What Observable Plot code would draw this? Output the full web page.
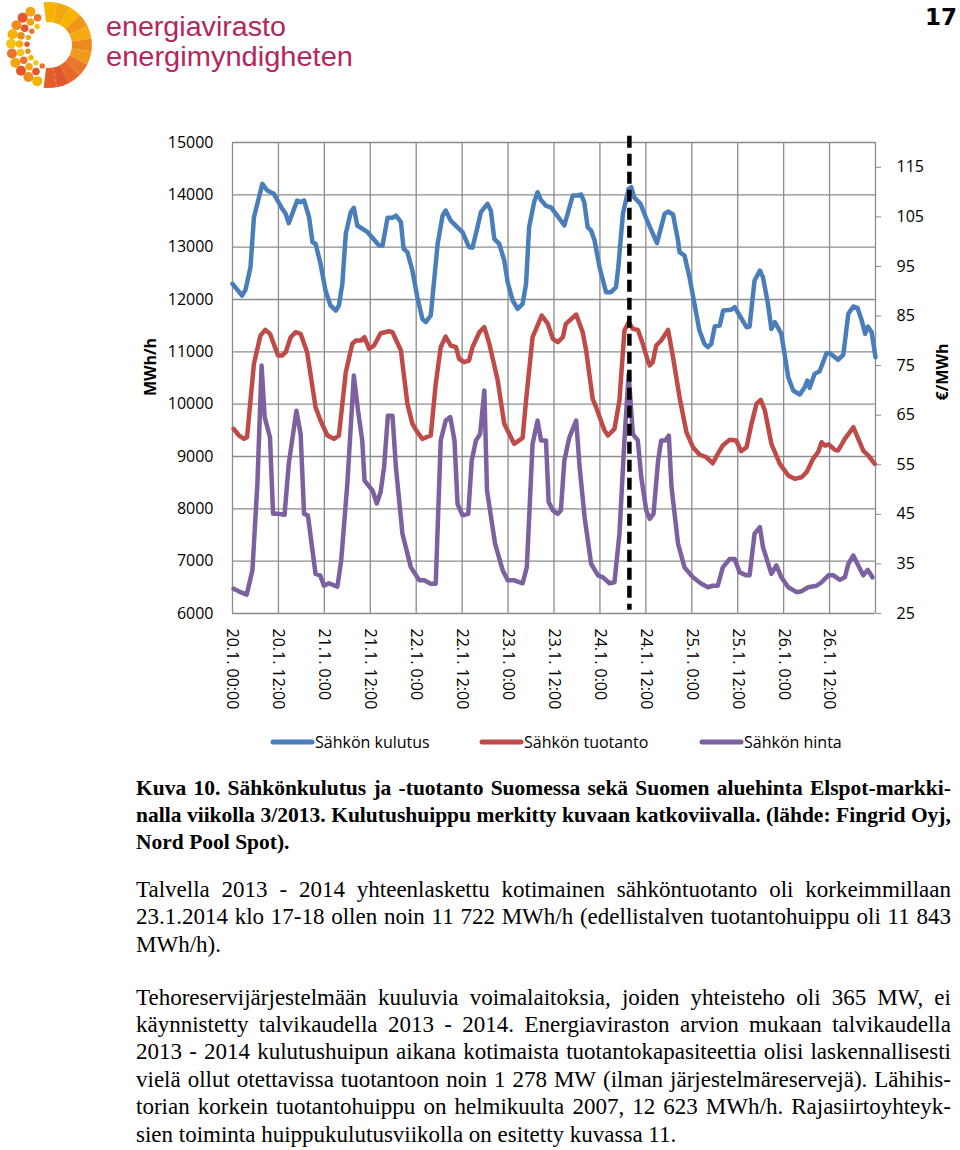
<!DOCTYPE html>
<html>
<head>
<meta charset="utf-8">
<script src="https://cdn.jsdelivr.net/npm/d3@7"></script>
<script src="https://cdn.jsdelivr.net/npm/@observablehq/plot@0.6"></script>
<style>
  html, body { margin: 0; padding: 0; background: #fff; }
  #page { position: relative; width: 960px; height: 1150px; overflow: hidden; background: #fff; }
  #chart { position: absolute; left: 0; top: 0; }
  #overlay { position: absolute; left: 0; top: 0; pointer-events: none; }
  .line { position: absolute; left: 136px; width: 815px; height: 28px; line-height: 28px;
          font-family: "Liberation Serif", "Times New Roman", serif; color: #000; white-space: nowrap; }
  .just { display: flex; justify-content: space-between; }
  .reg { font-size: 23px; }
  .bold { font-size: 21.5px; font-weight: bold; }
</style>
</head>
<body>
<div id="page">
  <div id="chart"></div>
  <svg id="overlay" width="960" height="1150"></svg>
  <div id="text"></div>
</div>
<script>
// ---------- DATA ----------
const xTickHours = [0, 12, 24, 36, 48, 60, 72, 84, 96, 108, 120, 132, 144, 156];
const xTickLabels = ["20.1. 00:00", "20.1. 12:00", "21.1. 0:00", "21.1. 12:00", "22.1. 0:00", "22.1. 12:00",
  "23.1. 0:00", "23.1. 12:00", "24.1. 0:00", "24.1. 12:00", "25.1. 0:00", "25.1. 12:00", "26.1. 0:00", "26.1. 12:00"];
const gridHours = [0, 12, 24, 36, 48, 60, 72, 84, 96, 108, 120, 132, 144, 156, 168];
const mwhTicks = [6000, 7000, 8000, 9000, 10000, 11000, 12000, 13000, 14000, 15000];
const priceTicks = [25, 35, 45, 55, 65, 75, 85, 95, 105, 115];
const priceDomain = [25, 120];
const mwhDomain = [6000, 15000];
const seriesNames = ["Sähkön kulutus", "Sähkön tuotanto", "Sähkön hinta"];
const seriesColors = ["#4a7ebb", "#be4b48", "#7d60a0"];
const logoLines = ["energiavirasto", "energimyndigheten"];

// Peak consumption marker (hour of week) and its vertical extent in MWh/h
const peakHour = 103.7;
const peakRuleTop = 15120;
const peakRuleBottom = 6060;

// Sähkön kulutus (MWh/h)
const kulutusHours = [0, 2.5, 3.4, 4.7, 5.6, 7.8, 9.1, 10.8, 13, 13.9, 14.7, 16.9, 17.7, 18.7, 20, 20.9, 21.7, 23,
  24.3, 25.6, 27, 27.8, 28.7, 29.6, 30.9, 31.7, 32.6, 35.3, 38.3, 39.2, 40.5, 41.8, 42.7, 44, 44.7, 45.7, 47,
  48.3, 49.6, 50.5, 51.8, 53.6, 54.9, 55.7, 57, 59.2, 60.1, 61.8, 62.7, 64, 64.9, 66.6, 67.5, 68.4, 69.7, 71,
  71.9, 73.2, 74.5, 75.8, 76.7, 77.5, 78.8, 79.7, 80.6, 81.9, 83.2, 84.5, 86.7, 88.9, 90.2, 91.1, 91.9, 92.8,
  93.7, 94.6, 95.9, 97.6, 98.9, 100.2, 100.8, 102, 103.5, 104.2, 104.9, 106.6, 108.5, 110.9, 112.9, 113.8,
  115.1, 116.4, 116.8, 118.1, 119.4, 120.7, 122, 123.3, 124.2, 125.1, 126, 127.3, 128.2, 130.3, 131.2, 132.5,
  134.3, 135.1, 136.4, 137.8, 138.6, 139.9, 140.8, 141.7, 142.7, 143.4, 145.2, 146.5, 148.2, 149.5, 150.2,
  150.8, 152.1, 153.4, 155.2, 156.1, 158.2, 159.6, 160.9, 162.2, 163.3, 164.4, 165.3, 166, 167, 168];
const kulutusMWh = [12300, 12076, 12185, 12617, 13573, 14210, 14083, 14020, 13733, 13637, 13458, 13892, 13860,
  13892, 13573, 13095, 13064, 12682, 12172, 11885, 11790, 11885, 12300, 13255, 13668, 13752, 13414, 13286,
  13032, 13032, 13561, 13561, 13605, 13477, 12969, 12904, 12554, 12044, 11631, 11566, 11694, 13064, 13605,
  13700, 13509, 13350, 13286, 13000, 12987, 13381, 13668, 13828, 13700, 13160, 13064, 12745, 12330, 11981,
  11822, 11917, 12300, 13381, 13860, 14050, 13900, 13790, 13760, 13637, 13414, 13987, 13987, 14006, 13860,
  13381, 13318, 13127, 12617, 12140, 12140, 12235, 12617, 13637, 14115, 14146, 13955, 13828, 13477, 13076,
  13637, 13681, 13624, 13127, 12904, 12840, 12426, 11917, 11407, 11153, 11088, 11153, 11484, 11503, 11790,
  11803, 11853, 11694, 11471, 11484, 12363, 12554, 12426, 11917, 11439, 11566, 11439, 11344, 10515, 10261,
  10185, 10324, 10452, 10312, 10579, 10630, 10974, 10974, 10847, 10948, 11726, 11866, 11841, 11598, 11344,
  11484, 11375, 10897];

// Sähkön tuotanto (MWh/h)
const tuotantoHours = [0.3, 1.7, 3, 3.8, 5.6, 7.3, 8.6, 9.8, 11.9, 13, 13.9, 15.2, 16.5, 17.8, 19.5, 21.7, 23,
  24.8, 26.5, 27.8, 29.6, 31.3, 32.2, 33.5, 34.5, 35.7, 37, 38.7, 40.9, 41.8, 44, 45.7, 47, 48.3, 49.6, 51.8,
  53.1, 54.4, 55.7, 57, 58.4, 59.2, 60.5, 61.8, 62.7, 64.5, 65.8, 67.1, 69.3, 71, 73.6, 75.8, 76.7, 78.4, 80.8,
  82.4, 83.7, 85, 86.3, 87.1, 89.8, 91.5, 92.4, 94.1, 95, 97.2, 98.1, 99.8, 101.1, 102.4, 103.5, 104.6, 105.9,
  107.2, 108.5, 109, 109.8, 110.7, 112, 113.8, 115.1, 116.8, 118.6, 120.3, 122, 123.8, 125.5, 126.8, 128.1,
  129.9, 131.6, 132.9, 134.3, 135.6, 136.9, 138, 139.1, 140.8, 143, 145.2, 146.9, 148.7, 150, 151.7, 153,
  153.9, 154.8, 155.8, 157.4, 158.2, 160, 162.2, 164.8, 166.1, 167.8];
const tuotantoMWh = [9529, 9401, 9337, 9368, 10771, 11312, 11420, 11344, 10930, 10930, 10993, 11279, 11375,
  11344, 10993, 9942, 9687, 9401, 9337, 9401, 10611, 11153, 11216, 11216, 11279, 11057, 11121, 11356, 11394,
  11375, 11025, 10006, 9624, 9464, 9337, 9401, 10388, 11088, 11293, 11121, 11088, 10866, 10802, 10834, 11088,
  11375, 11471, 11153, 10452, 9624, 9242, 9356, 10070, 11279, 11694, 11535, 11248, 11184, 11279, 11535, 11713,
  11375, 11025, 10101, 9942, 9496, 9401, 9529, 10070, 11407, 11566, 11439, 11420, 11153, 10834, 10739, 10802,
  11121, 11216, 11420, 10897, 10133, 9464, 9178, 9038, 8986, 8871, 9051, 9210, 9318, 9305, 9101, 9178, 9624,
  10006, 10082, 9879, 9242, 8860, 8636, 8573, 8604, 8700, 8955, 9082, 9273, 9210, 9229, 9127, 9114, 9337,
  9560, 9114, 9019, 8860];

// Sähkön hinta (€/MWh)
const hintaHours = [0.3, 2.1, 3.7, 5.2, 6.5, 7.6, 8.4, 9.8, 10.6, 12.1, 13.6, 14.7, 16.7, 17.8, 18.7, 19.7, 21.7,
  22.9, 23.9, 25.2, 27.4, 28.4, 30, 31.7, 32.8, 33.9, 34.5, 36.6, 37.7, 38.7, 39.6, 40.6, 41.8, 42.7, 44.4,
  46.6, 48.8, 50.1, 51.8, 53.1, 54.4, 55.7, 56.9, 58, 58.8, 60.1, 61.6, 62.5, 63.6, 64.7, 65.8, 66.5, 68.6,
  70.6, 71.9, 73.6, 75.8, 76.9, 78.4, 79.7, 80.6, 81.9, 82.6, 83.7, 85, 85.8, 86.7, 88, 89.8, 90.7, 92, 93.7,
  95.5, 96.8, 98.5, 99.8, 101.1, 102.4, 103.5, 104.6, 105.9, 106.8, 108.1, 109, 110, 111.2, 112, 113.1, 114,
  114.7, 116.4, 118.1, 120.3, 122.5, 124.2, 125.5, 126.8, 128.1, 129.9, 131.2, 132.5, 134.3, 135.1, 136.4,
  137.8, 138.6, 140.8, 142.1, 143.4, 145.2, 147.4, 148.7, 150.4, 152.6, 153.9, 155.7, 157, 158.7, 160, 160.9,
  162.2, 163.5, 164.8, 166, 167.2];
const hintaEur = [30, 29.3, 28.8, 33.7, 51.1, 75, 64.6, 60.5, 45.1, 45.1, 44.9, 55.2, 65.9, 61.2, 45.1, 44.8, 33,
  32.7, 30.6, 31.1, 30.4, 35.7, 51.1, 73, 65.9, 59.9, 51.8, 49.8, 47.2, 49.5, 54.5, 64.9, 64.9, 54.5, 41.1,
  34.3, 31.7, 31.7, 31, 31, 59.9, 63.9, 64.6, 59.9, 47.1, 44.8, 45.1, 55.8, 59.9, 61.2, 70, 49.8, 39.1, 33.7,
  31.7, 31.7, 31.1, 34.3, 59.2, 63.9, 59.9, 59.9, 47.5, 45.8, 45.1, 45.8, 55.8, 60.5, 63.9, 54.5, 44.4, 35,
  32.7, 32.3, 31.1, 31.3, 41.1, 59.9, 73.3, 61.2, 59.9, 52.5, 45.8, 44.1, 45.1, 55.8, 59.9, 59.9, 60.9, 50.5,
  39.1, 34.3, 32.3, 31, 30.3, 30.6, 30.6, 34.3, 36, 36, 33.3, 32.7, 32.7, 41.1, 42.4, 38.4, 33, 34.7, 32.3,
  30.3, 29.3, 29.5, 30.3, 30.6, 31.3, 32.7, 32.7, 31.8, 32.3, 35, 36.7, 34.7, 32.7, 33.8, 32.3];

// ---------- TEXT ----------
const captionLines = [
  "Kuva 10. Sähkönkulutus ja -tuotanto Suomessa sekä Suomen aluehinta Elspot-markki-",
  "nalla viikolla 3/2013. Kulutushuippu merkitty kuvaan katkoviivalla. (lähde: Fingrid Oyj,",
  "Nord Pool Spot)."
];
const para1Lines = [
  "Talvella 2013 - 2014 yhteenlaskettu kotimainen sähköntuotanto oli korkeimmillaan",
  "23.1.2014 klo 17-18 ollen noin 11 722 MWh/h (edellistalven tuotantohuippu oli 11 843",
  "MWh/h)."
];
const para2Lines = [
  "Tehoreservijärjestelmään kuuluvia voimalaitoksia, joiden yhteisteho oli 365 MW, ei",
  "käynnistetty talvikaudella 2013 - 2014. Energiaviraston arvion mukaan talvikaudella",
  "2013 - 2014 kulutushuipun aikana kotimaista tuotantokapasiteettia olisi laskennallisesti",
  "vielä ollut otettavissa tuotantoon noin 1 278 MW (ilman järjestelmäreservejä). Lähihis-",
  "torian korkein tuotantohuippu on helmikuulta 2007, 12 623 MWh/h. Rajasiirtoyhteyk-",
  "sien toiminta huippukulutusviikolla on esitetty kuvassa 11."
];

// ---------- CHART ----------
const priceToMWh = d3.scaleLinear().domain(priceDomain).range(mwhDomain);
const kulutus = kulutusHours.map((t, i) => ({t, v: kulutusMWh[i]}));
const tuotanto = tuotantoHours.map((t, i) => ({t, v: tuotantoMWh[i]}));
const hinta = hintaHours.map((t, i) => ({t, v: priceToMWh(hintaEur[i])}));
const gridColor = "#8c8c8c";
const font = "'Open Sans', 'Liberation Sans', sans-serif";

const chart = Plot.plot({
  width: 960,
  height: 760,
  marginLeft: 232,
  marginRight: 85,
  marginTop: 142,
  marginBottom: 147,
  style: {fontFamily: font, fontSize: "16px", color: "#000", background: "transparent", overflow: "visible"},
  x: {type: "linear", domain: [gridHours[0], gridHours[gridHours.length - 1]]},
  y: {type: "linear", domain: mwhDomain},
  marks: [
    Plot.ruleX(gridHours, {stroke: gridColor, strokeWidth: 1.3}),
    Plot.ruleY(mwhTicks, {stroke: gridColor, strokeWidth: 1.3}),
    Plot.axisY(mwhTicks, {anchor: "left", tickSize: 0, tickPadding: 19, label: null, tickFormat: d => String(d), fill: "#000"}),
    Plot.axisY(priceTicks.map(p => priceToMWh(p)), {anchor: "right", tickSize: 5, tickPadding: 16, label: null,
      stroke: gridColor, fill: "#000", tickFormat: d => String(Math.round(priceToMWh.invert(d)))}),
    Plot.axisX(xTickHours, {anchor: "bottom", tickSize: 0, tickPadding: 15, tickRotate: 90, label: null, fill: "#000",
      tickFormat: d => xTickLabels[xTickHours.indexOf(d)]}),
    Plot.line(kulutus, {x: "t", y: "v", stroke: seriesColors[0], strokeWidth: 4.5, strokeLinejoin: "round"}),
    Plot.line(tuotanto, {x: "t", y: "v", stroke: seriesColors[1], strokeWidth: 4.5, strokeLinejoin: "round"}),
    Plot.line(hinta, {x: "t", y: "v", stroke: seriesColors[2], strokeWidth: 4.5, strokeLinejoin: "round"}),
    Plot.ruleX([peakHour], {y1: peakRuleTop, y2: peakRuleBottom, stroke: "#000", strokeWidth: 4.5, strokeDasharray: "12,6"})
  ]
});
document.getElementById("chart").appendChild(chart);

// ---------- OVERLAY: logo, page number, axis titles, legend ----------
const ov = d3.select("#overlay");
const cx = 49, cy = 45;
const segColors = ["#f6b400", "#f4a60e", "#f7b300", "#ef961a", "#f5aa12", "#ec8a1f", "#f09a1c", "#e8772a", "#e7682b", "#e1582c", "#e4602b"];
const arc = d3.arc().innerRadius(23).outerRadius(43);
const a0 = -0.04 * Math.PI, a1 = 1.04 * Math.PI;
segColors.forEach((c, i) => {
  const s = a0 + (a1 - a0) * i / segColors.length;
  const e = a0 + (a1 - a0) * (i + 1) / segColors.length;
  ov.append("path").attr("transform", `translate(${cx},${cy})`)
    .attr("d", arc({startAngle: s, endAngle: e})).attr("fill", c);
});
const dotColors = ["#f5b300", "#ee8c1e", "#e4572e", "#f2a516", "#e9742a", "#f7c21a"];
const dotRings = [{r: 38, s: 5, n: 10}, {r: 29.5, s: 3.8, n: 9}, {r: 22, s: 2.7, n: 8}];
dotRings.forEach((ring, ri) => {
  for (let k = 0; k < ring.n; k++) {
    const a = Math.PI * (1.1 + 0.82 * (k + 0.5 * (ri % 2)) / ring.n);
    ov.append("circle")
      .attr("cx", cx + ring.r * Math.sin(a)).attr("cy", cy - ring.r * Math.cos(a))
      .attr("r", ring.s).attr("fill", dotColors[(k + ri * 2) % dotColors.length]);
  }
});
const logoFont = "'Liberation Sans', Arial, sans-serif";
ov.append("text").attr("x", 106).attr("y", 36).attr("font-family", logoFont).attr("font-size", 27)
  .attr("fill", "#b3285c").attr("textLength", 180).attr("lengthAdjust", "spacingAndGlyphs").text(logoLines[0]);
ov.append("text").attr("x", 106).attr("y", 66).attr("font-family", logoFont).attr("font-size", 27)
  .attr("fill", "#b3285c").attr("textLength", 247).attr("lengthAdjust", "spacingAndGlyphs").text(logoLines[1]);

ov.append("text").attr("x", 957).attr("y", 25).attr("text-anchor", "end")
  .attr("font-family", "'DejaVu Sans', Verdana, sans-serif").attr("font-weight", "bold").attr("font-size", 23)
  .attr("fill", "#000").text("17");

ov.append("text").attr("transform", "translate(156,367) rotate(-90)").attr("text-anchor", "middle")
  .attr("font-family", font).attr("font-weight", "bold").attr("font-size", 16).attr("fill", "#000").text("MWh/h");
ov.append("text").attr("transform", "translate(948,372) rotate(-90)").attr("text-anchor", "middle")
  .attr("font-family", font).attr("font-weight", "bold").attr("font-size", 16).attr("fill", "#000").text("€/MWh");

const legendX = [273, 482, 702];
seriesNames.forEach((name, i) => {
  ov.append("line").attr("x1", legendX[i]).attr("x2", legendX[i] + 39).attr("y1", 742).attr("y2", 742)
    .attr("stroke", seriesColors[i]).attr("stroke-width", 5).attr("stroke-linecap", "round");
  ov.append("text").attr("x", legendX[i] + 42).attr("y", 748).attr("font-family", font).attr("font-size", 16)
    .attr("fill", "#000").text(name);
});

// ---------- PARAGRAPHS ----------
const textDiv = document.getElementById("text");
function addLines(lines, centers, cls) {
  lines.forEach((ln, i) => {
    const div = document.createElement("div");
    const last = i === lines.length - 1;
    div.className = "line " + cls + (last ? "" : " just");
    div.style.top = (centers[i] - 14) + "px";
    if (last) {
      div.textContent = ln;
    } else {
      ln.split(" ").filter(w => w.length).forEach(w => {
        const sp = document.createElement("span");
        sp.textContent = w;
        div.appendChild(sp);
      });
    }
    textDiv.appendChild(div);
  });
}
addLines(captionLines, [788, 815, 842], "bold");
addLines(para1Lines, [890, 917, 945], "reg");
addLines(para2Lines, [998, 1025, 1052, 1080, 1107, 1135], "reg");
</script>
</body>
</html>
